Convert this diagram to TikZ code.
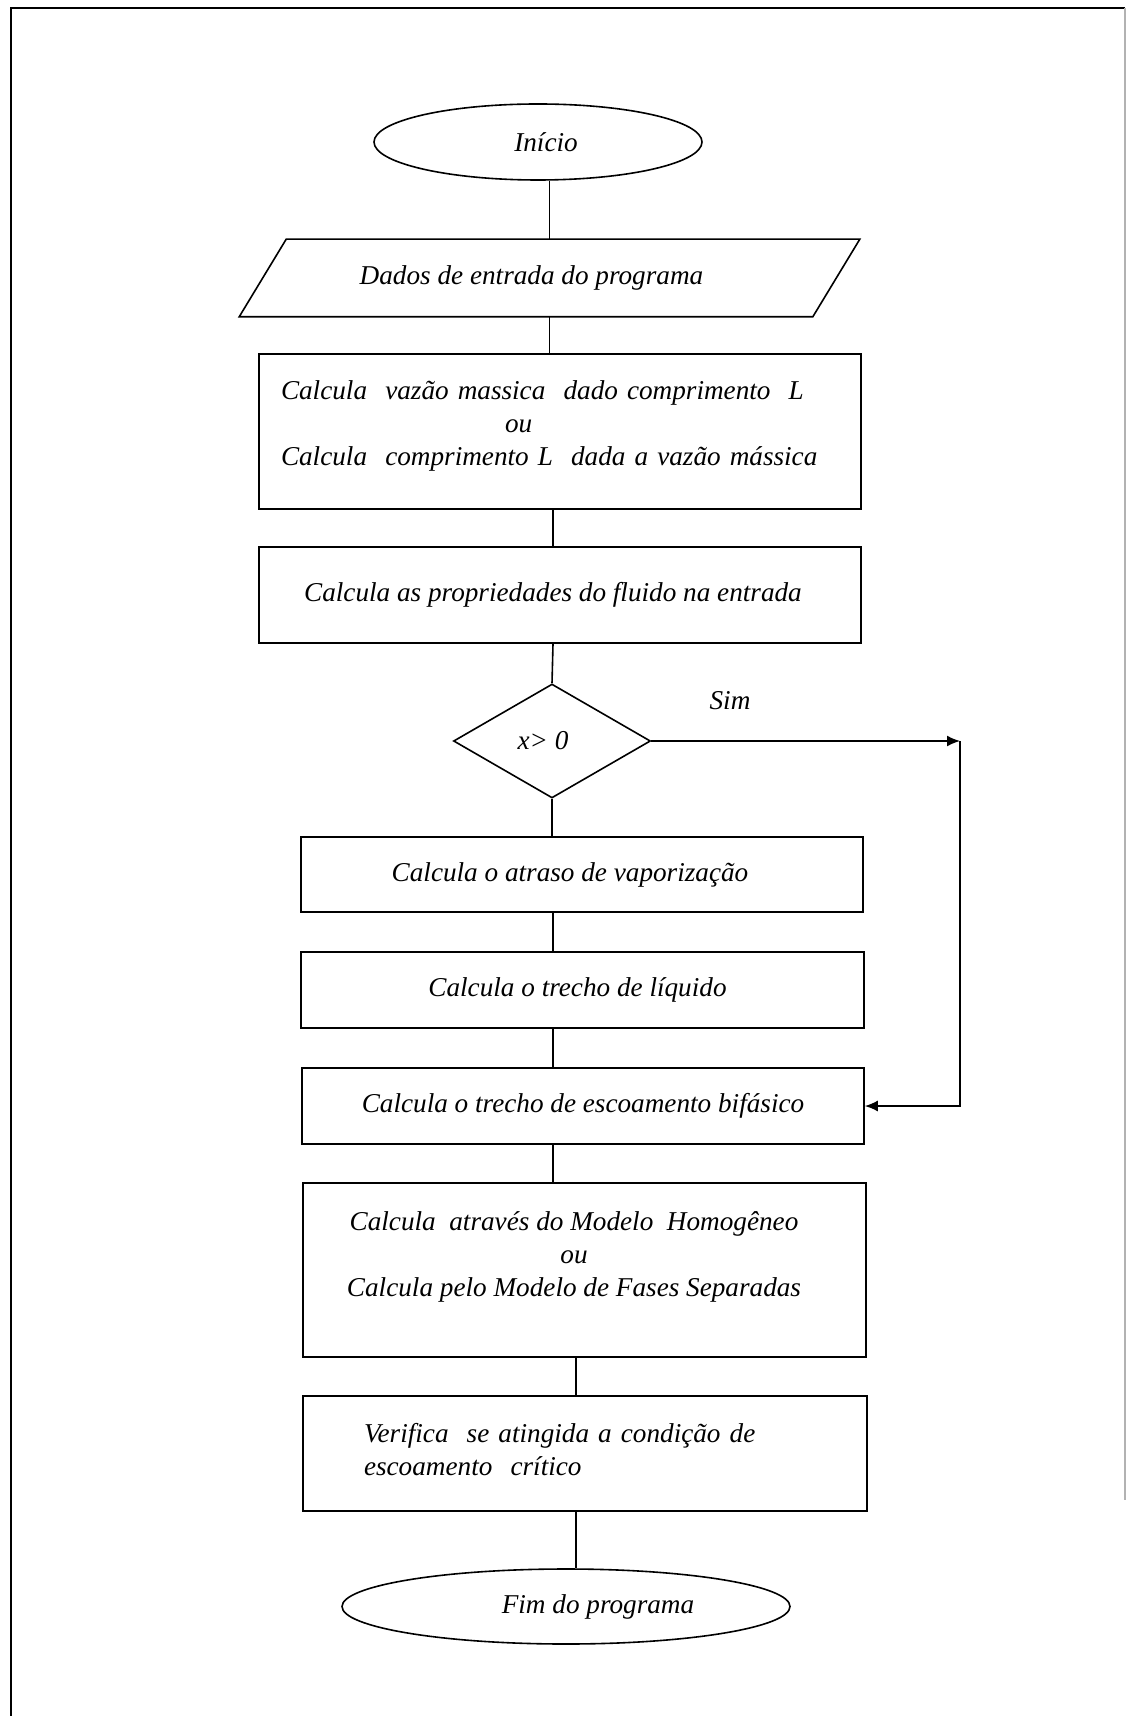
\documentclass[tikz,border=0pt]{standalone}
\usepackage{fontspec}
\setmainfont{Liberation Serif}
\usetikzlibrary{arrows.meta, positioning, shapes.geometric}

\begin{document}
\begin{tikzpicture}[
  x=0.5pt, y=-0.5pt,
  font=\fontsize{13.6}{16.5}\selectfont\itshape,
  line width=0.8pt,
  proc/.style={draw, rectangle, inner sep=0pt},
  term/.style={draw, ellipse, inner sep=0pt},
  io/.style={rectangle, inner sep=0pt},
  test/.style={draw, diamond, aspect=1.73, inner sep=0pt},
  arr/.style={-{Latex[length=6.5pt, width=5.5pt]}},
]
\useasboundingbox (0,0) rectangle (1128,1716);
% page frame
\draw (11,1716) -- (11,8) -- (1125,8);
\draw[gray!60] (1125,8) -- (1125,1500);

% Column of steps
\node[term, minimum width=164pt, minimum height=38pt] (start) at (538,142) {\hspace*{8pt}Início};
\node[io, minimum width=286pt, minimum height=38pt] (input) at (549.5,278) {Dados de entrada do programa\hspace*{18pt}};
\draw ([xshift=-11.75pt]input.south west) -- ([xshift=-11.75pt]input.south east)
   -- ([xshift=11.75pt]input.north east) -- ([xshift=11.75pt]input.north west) -- cycle;
\node[proc, minimum width=301pt, minimum height=77.5pt] (vazao) at (560,431.5) {};
\node[text width=279pt, align=left] (vazaotxt) at (560,426)
  {Calcula~ vazão massica~ dado comprimento~ L\\ \hspace*{112pt}ou\\ Calcula~ comprimento L~ dada a vazão mássica};
\node[proc, minimum width=301pt, minimum height=48pt] (props) at (560,595) {Calcula as propriedades do fluido na entrada\hspace*{7pt}};
\node[test, minimum width=98.5pt, minimum height=57pt] (title) at (552,741) {x> 0\hspace*{9pt}};
\node (sim) at (730,701) {Sim};
\node[proc, minimum width=281pt, minimum height=37.5pt] (atraso) at (582,874.5) {Calcula o atraso de vaporização\hspace*{12pt}};
\node[proc, minimum width=281.5pt, minimum height=38pt] (liquido) at (582.5,990) {Calcula o trecho de líquido\hspace*{5pt}};
\node[proc, minimum width=281pt, minimum height=38pt] (bifasico) at (583,1106) {Calcula o trecho de escoamento bifásico};
\node[proc, minimum width=281.5pt, minimum height=87pt] (modelo) at (584.5,1270) {};
\node[align=center] (modelotxt) at (574,1257)
  {Calcula~ através do Modelo~ Homogêneo\\ou\\Calcula pelo Modelo de Fases Separadas};
\node[proc, minimum width=282pt, minimum height=57.5pt] (critico) at (585,1453.5) {};
\node[text width=221pt, align=left] (criticotxt) at (585,1450)
  {Verifica~ se atingida a condição de\\escoamento~ crítico};
\node[term, minimum width=224pt, minimum height=37.5pt] (fim) at (566,1606.5) {\hspace*{32pt}Fim do programa};

% connectors
\coordinate (spine) at (553,0);
\coordinate (spinelow) at (576,0);
\coordinate (corner) at (960,741);
\draw (input.north) -- (input.north |- start.south);
\draw (input.south) -- (input.south |- vazao.north);
\foreach \a/\b in {vazao/props, atraso/liquido, liquido/bifasico, bifasico/modelo}{
  \draw (\a.south -| spine) -- (\b.north -| spine);
}
\draw (props.south -| spine) -- (title.north);
\draw (title.south) -- (title.south |- atraso.north);
\foreach \a/\b in {modelo/critico, critico/fim}{
  \draw (\a.south -| spinelow) -- (\b.north -| spinelow);
}
\draw[arr] (title.east) -- (corner);
\draw[arr] (corner) -- (corner |- bifasico.east) -- (bifasico.east);
\end{tikzpicture}
\end{document}
